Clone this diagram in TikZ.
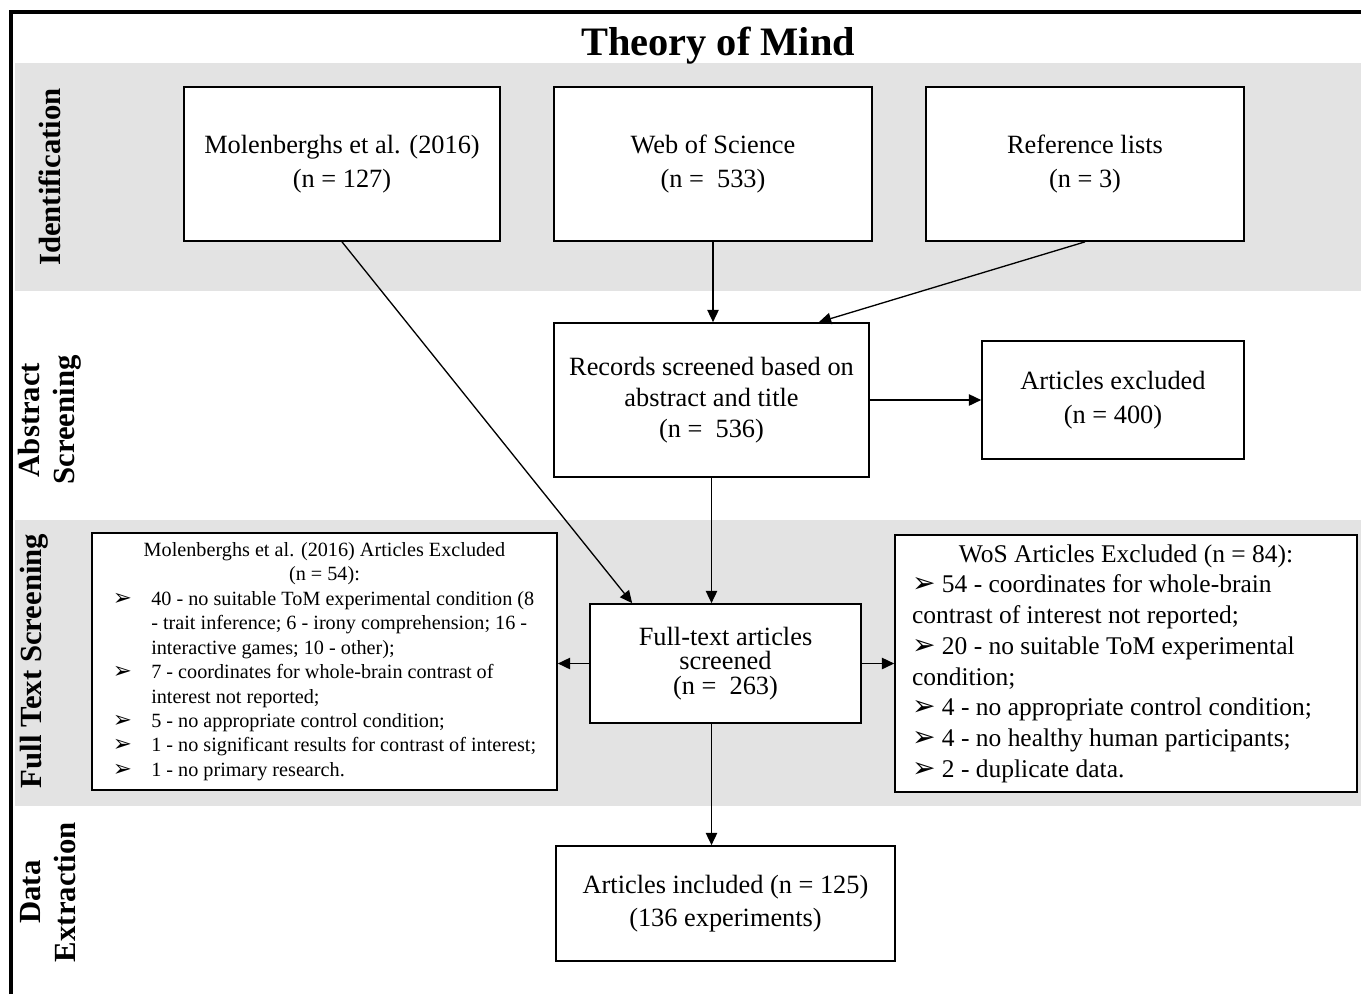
\documentclass[tikz,border=0pt]{standalone}
\usepackage{fontspec}
\setmainfont{Liberation Serif}
\newfontfamily\dingfont{DejaVu Sans}
\usetikzlibrary{arrows.meta,calc}
\definecolor{bandgray}{RGB}{227,227,227}
\newcommand{\bul}[1][13]{{\dingfont\fontsize{#1}{#1}\selectfont ➢}}

\begin{document}
\begin{tikzpicture}[
    x=0.02cm, y=-0.02cm,
    box/.style={rectangle, draw, line width=1pt, fill=white, align=center, inner sep=2pt, font=\fontsize{15}{19}\selectfont},
    xbox/.style={rectangle, draw, line width=1pt, fill=white, inner sep=0pt},
    band/.style={fill=bandgray},
    stage/.style={rotate=90, align=center, font=\bfseries\fontsize{17.5}{20}\selectfont},
    arr/.style={-{Triangle[length=7pt,width=6.5pt]}, line width=0.75pt},
]
    \useasboundingbox (0,0) rectangle (1361,994);
    % background bands and frame
    \fill[band] (15,63) rectangle (1361,291);
    \fill[band] (15,520) rectangle (1361,806);
    \draw[line width=2pt] (11,994) -- (11,12) -- (1361,12);

    \node[font=\bfseries\fontsize{23}{26}\selectfont] (title) at (718,46) {Theory of Mind};

    % stage labels
    \node[stage] (lid) at (50,177) {Identification};
    \node[stage] (labs) at (50,420) {Abstract\\Screening};
    \node[stage] (lfull) at (34,661) {Full Text Screening};
    \node[stage] (ldata) at (48,892) {Data\\Extraction};

    % identification
    \node[box, minimum width=6.32cm, minimum height=3.08cm] (mol) at (342,164) {Molenberghs et al. (2016)\\(n = 127)};
    \node[box, minimum width=6.36cm, minimum height=3.08cm] (wos) at (713,164) {Web of Science\\(n =\ \ 533)};
    \node[box, minimum width=6.36cm, minimum height=3.08cm] (ref) at (1085,164) {Reference lists\\(n = 3)};

    % screening
    \node[box, minimum width=6.3cm, minimum height=3.08cm, font=\fontsize{15}{17.5}\selectfont] (rec) at (711.5,400) {Records screened based on\\abstract and title\\(n =\ \ 536)};
    \node[box, minimum width=5.24cm, minimum height=2.36cm] (exc) at (1113,400) {Articles excluded\\(n = 400)};
    \node[box, minimum width=5.42cm, minimum height=2.38cm, font=\fontsize{15}{14}\selectfont] (full) at (725.5,663.5) {Full-text articles\\screened\\(n =\ \ 263)};
    \node[box, minimum width=6.78cm, minimum height=2.3cm] (inc) at (725.5,903.5) {Articles included (n = 125)\\(136 experiments)};

    % exclusion lists
    \node[xbox, minimum width=9.3cm, minimum height=5.14cm, font=\fontsize{11.5}{13.9}\selectfont] (molx) at (324.5,661.5) {%
      \begin{tabular}{@{}l@{\hspace{11pt}}l@{}}
      \multicolumn{2}{c}{Molenberghs et al. (2016) Articles Excluded}\\
      \multicolumn{2}{c}{(n = 54):}\\
      \bul & 40 - no suitable ToM experimental condition (8\\
           & - trait inference; 6 - irony comprehension; 16 -\\
           & interactive games; 10 - other);\\
      \bul & 7 - coordinates for whole-brain contrast of\\
           & interest not reported;\\
      \bul & 5 - no appropriate control condition;\\
      \bul & 1 - no significant results for contrast of interest;\\
      \bul & 1 - no primary research.
      \end{tabular}};
    \node[xbox, minimum width=9.24cm, minimum height=5.14cm, font=\fontsize{14.5}{17.5}\selectfont] (wosx) at (1126,663.5) {%
      \begin{tabular}{@{}p{8.56cm}@{}}
      \multicolumn{1}{@{}c@{}}{WoS Articles Excluded (n = 84):}\\
      \bul[16] 54 - coordinates for whole-brain\\
      contrast of interest not reported;\\
      \bul[16] 20 - no suitable ToM experimental\\
      condition;\\
      \bul[16] 4 - no appropriate control condition;\\
      \bul[16] 4 - no healthy human participants;\\
      \bul[16] 2 - duplicate data.
      \end{tabular}};

    % connectors
    \draw[arr] (mol.south) -- ($(full.north west)+(43,0)$);
    \draw[arr] (wos.south) -- (wos.south |- rec.north);
    \draw[arr] (ref.south) -- ($(rec.north east)+(-51,0)$);
    \draw[arr] (rec.east) -- (exc.west);
    \draw[arr] (rec.south) -- (rec.south |- full.north);
    \draw[arr] (full.west) -- (full.west -| molx.east);
    \draw[arr] (full.east) -- (full.east -| wosx.west);
    \draw[arr] (rec.south |- full.south) -- (rec.south |- inc.north);
\end{tikzpicture}
\end{document}
